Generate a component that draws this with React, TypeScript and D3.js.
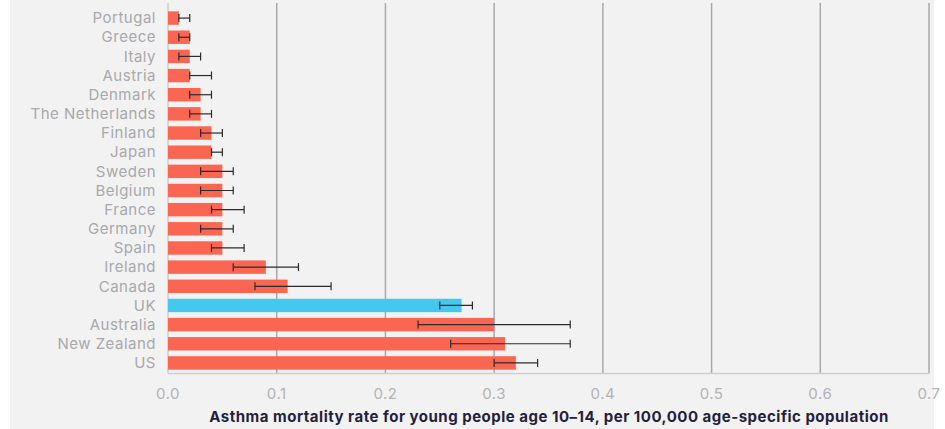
import React from "react";
import * as d3 from "d3";

const countries = [
  "Portugal", "Greece", "Italy", "Austria", "Denmark", "The Netherlands", "Finland",
  "Japan", "Sweden", "Belgium", "France", "Germany", "Spain", "Ireland", "Canada",
  "UK", "Australia", "New Zealand", "US",
];
const rates = [0.01, 0.02, 0.02, 0.02, 0.03, 0.03, 0.04, 0.04, 0.05, 0.05, 0.05, 0.05, 0.05, 0.09, 0.11, 0.27, 0.30, 0.31, 0.32];
const lower = [0.01, 0.01, 0.01, 0.02, 0.02, 0.02, 0.03, 0.04, 0.03, 0.03, 0.04, 0.03, 0.04, 0.06, 0.08, 0.25, 0.23, 0.26, 0.30];
const upper = [0.02, 0.02, 0.03, 0.04, 0.04, 0.04, 0.05, 0.05, 0.06, 0.06, 0.07, 0.06, 0.07, 0.12, 0.15, 0.28, 0.37, 0.37, 0.34];
const xTicks = [0, 0.1, 0.2, 0.3, 0.4, 0.5, 0.6, 0.7];
const highlight = "UK";

const W = 945;
const H = 429;
const FONT = "Inter, 'Open Sans', sans-serif";

export default function App() {
  const x = d3.scaleLinear().domain([0, 0.7]).range([168, 929]);
  const y = d3.scaleBand<string>().domain(countries).range([8.5, 372.5]).paddingInner(0.3).paddingOuter(0.15);
  const plotTop = 3;
  const plotBottom = 373.5;
  const bw = y.bandwidth();

  return (
    <svg width={W} height={H} style={{ position: "absolute", left: 0, top: 0 }}>
      <rect x={10} y={0} width={924} height={H} fill="#f2f2f2" />
      {/* vertical gridlines */}
      {xTicks.slice(1).map((t) => (
        <line key={t} x1={x(t)} x2={x(t)} y1={plotTop} y2={plotBottom} stroke="#a9a9a9" strokeWidth={1.5} />
      ))}
      {/* axis frame */}
      <line x1={x(0)} x2={x(0)} y1={plotTop} y2={plotBottom} stroke="#cfcfcf" strokeWidth={1.5} />
      <line x1={x(0)} x2={x(0.7)} y1={plotBottom} y2={plotBottom} stroke="#cfcfcf" strokeWidth={1.5} />
      {/* bars */}
      {countries.map((c, i) => (
        <rect
          key={c}
          x={x(0)}
          y={y(c)}
          width={x(rates[i]) - x(0)}
          height={bw}
          fill={c === highlight ? "#45c8ed" : "#fa6652"}
        />
      ))}
      {/* error bars */}
      {countries.map((c, i) => {
        const cy = (y(c) as number) + bw / 2;
        return (
          <g key={c} stroke="#2b2b2b" strokeWidth={1.2}>
            <line x1={x(lower[i])} x2={x(upper[i])} y1={cy} y2={cy} />
            <line x1={x(lower[i])} x2={x(lower[i])} y1={cy - 4} y2={cy + 4} />
            <line x1={x(upper[i])} x2={x(upper[i])} y1={cy - 4} y2={cy + 4} />
          </g>
        );
      })}
      {/* category labels */}
      {countries.map((c) => (
        <text
          key={c}
          x={156}
          y={(y(c) as number) + bw / 2}
          dy="0.35em"
          textAnchor="end"
          fontFamily={FONT}
          fontSize={15}
          letterSpacing={0.5}
          fill="#a8a8ad"
        >
          {c}
        </text>
      ))}
      {/* x tick labels */}
      {xTicks.map((t) => (
        <text
          key={t}
          x={x(t)}
          y={399}
          textAnchor="middle"
          fontFamily={FONT}
          fontSize={15}
          letterSpacing={0.5}
          fill="#b3b3b6"
        >
          {d3.format(".1f")(t)}
        </text>
      ))}
      <text
        x={549}
        y={422}
        textAnchor="middle"
        fontFamily={FONT}
        fontSize={15}
        letterSpacing={0.5}
        fontWeight={700}
        fill="#251f3d"
      >
        Asthma mortality rate for young people age 10–14, per 100,000 age-specific population
      </text>
    </svg>
  );
}
